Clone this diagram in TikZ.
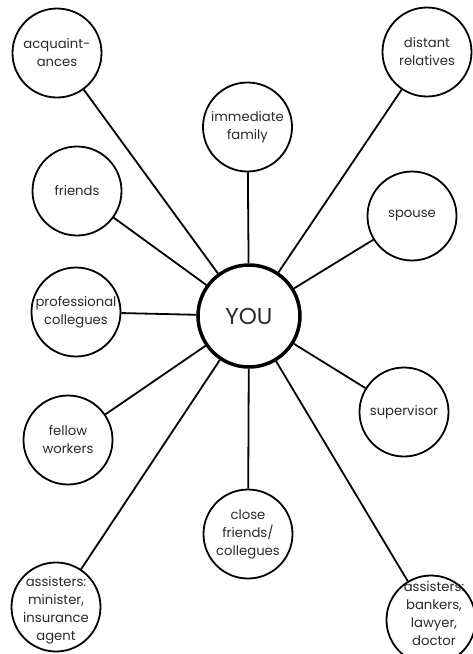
\documentclass[tikz,border=0pt]{standalone}
\usepackage{fontspec}
\setmainfont{Poppins}
\definecolor{txt}{HTML}{2A2A2A}
\begin{document}
\begin{tikzpicture}[x=1pt,y=-1pt,
  bubble/.style={circle,draw=black,line width=1.8pt,minimum size=89pt,inner sep=0pt,
    align=center,text=txt,font=\fontsize{13.2}{18}\selectfont},
  bare/.style={align=center,text=txt,inner sep=0pt,font=\fontsize{13.2}{18}\selectfont},
  you/.style={circle,draw=black,line width=3.5pt,minimum size=102pt,inner sep=0pt,
    text=txt,font=\fontsize{23}{26}\selectfont},
  link/.style={line width=1.8pt}]
\useasboundingbox (0,0) rectangle (473,654);
\node[you] (you) at (249,316) {YOU};
\node[bubble] (acq) at (57,53) {acquaint-\\ances};
\node[bubble] (dist) at (427,52) {distant\\relatives};
\node[bubble] (imm) at (247.5,127) {immediate\\family};
\node[bubble] (fr) at (77,191) {friends};
\node[bubble] (sp) at (412,216) {spouse};
\node[bubble] (prof) at (76,312) {professional\\collegues};
\node[bubble] (sup) at (404,412) {supervisor};
\node[bubble] (fel) at (68,440) {fellow\\workers};
\node[bubble] (close) at (248,534) {close\\friends/\\collegues};
\node[bubble] (min) at (56,607) {};
\node[bare] (mint) at (56,610) {assisters:\\minister,\\insurance\\agent};
\node[bubble] (bank) at (431,620) {};
\node[bare] (bankt) at (434,614) {assisters:\\bankers,\\lawyer,\\doctor};
\foreach \n in {acq,dist,imm,fr,sp,prof,sup,fel,close,min,bank}
  \draw[link] (you) -- (\n);
\end{tikzpicture}
\end{document}
